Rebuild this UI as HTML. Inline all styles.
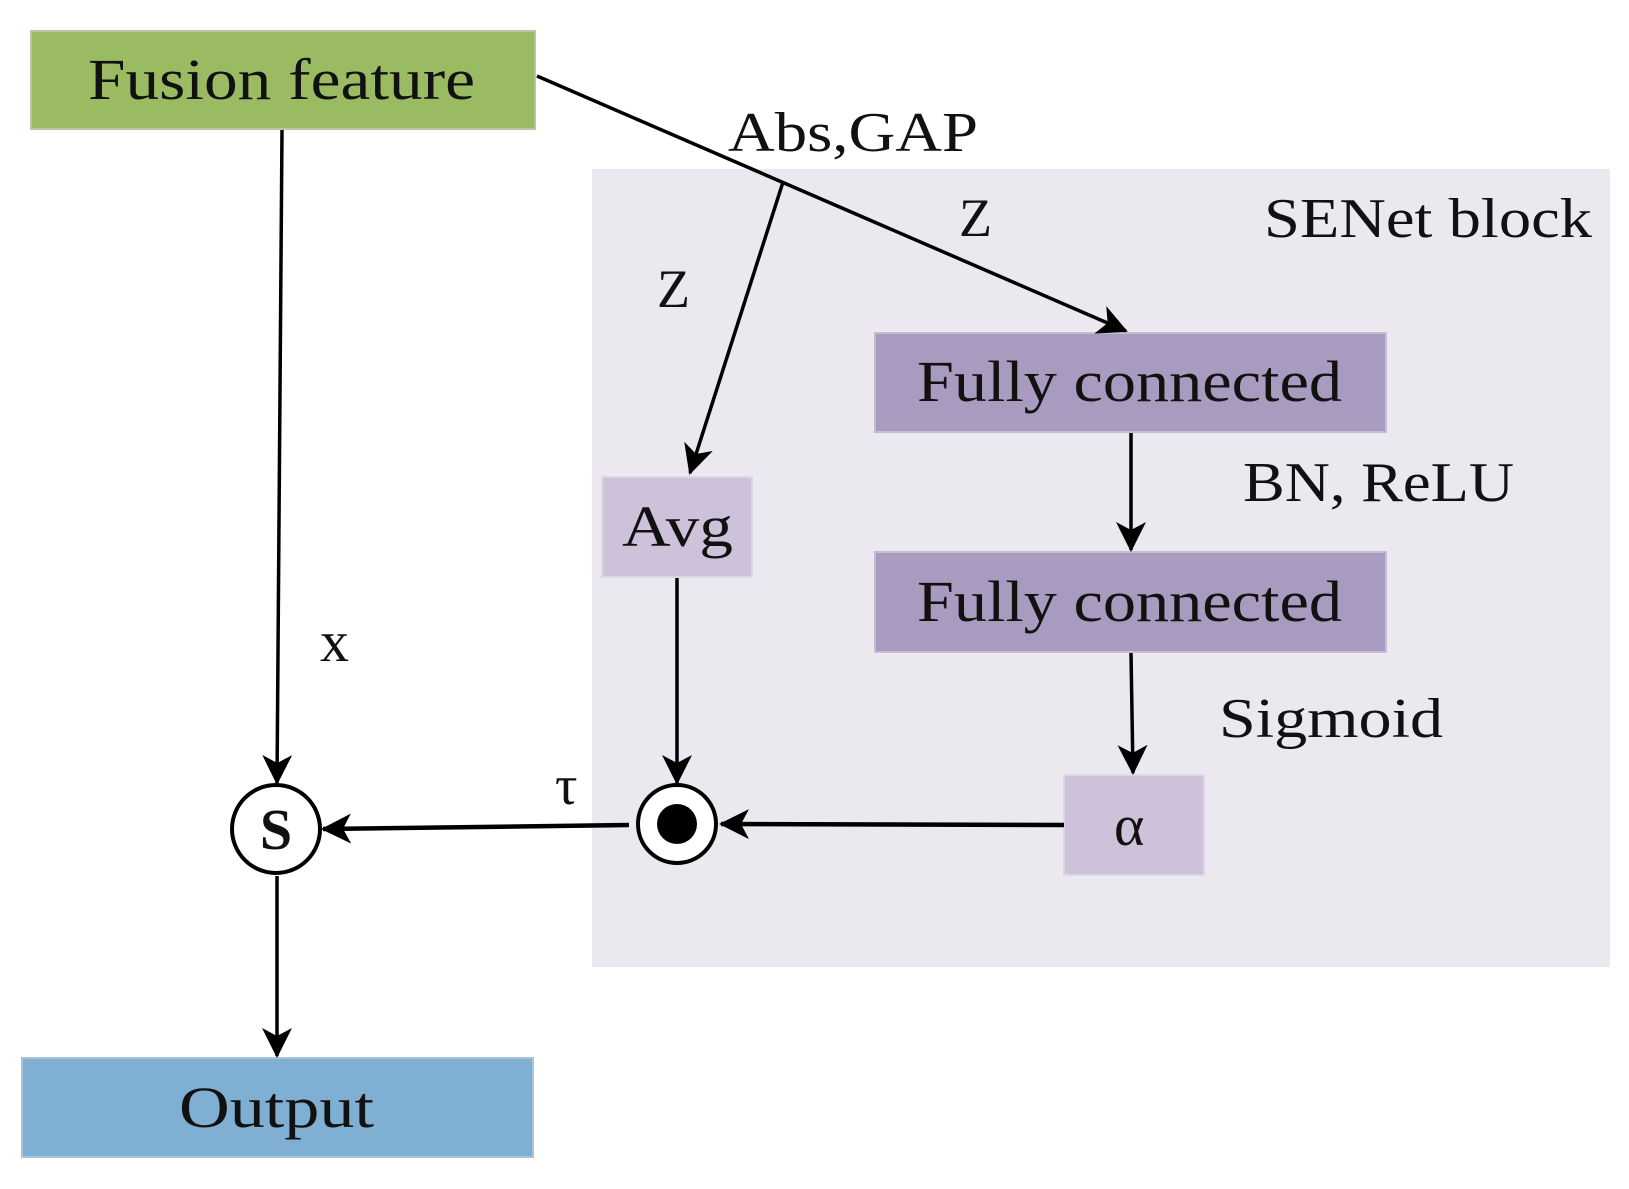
<!DOCTYPE html>
<html><head><meta charset="utf-8"><style>
html,body{margin:0;padding:0;background:#fff;}
svg{display:block;}
text{font-family:"Liberation Serif",serif;fill:#111;}
</style></head><body>
<svg width="1629" height="1189" viewBox="0 0 1629 1189" xmlns="http://www.w3.org/2000/svg">
<defs>
<marker id="a" markerWidth="32" markerHeight="32" refX="28" refY="15" orient="auto" markerUnits="userSpaceOnUse">
<path d="M0,0 L30,15 L0,30 L8,15 Z" fill="#000"/>
</marker>
</defs>
<rect x="592" y="169" width="1018" height="798" fill="#ebe8ef"/>
<rect x="31" y="31" width="504" height="98" fill="#9bbb62" stroke="#b8c8a0" stroke-width="2"/>
<rect x="875" y="333" width="511" height="99" fill="#a99bbf" stroke="#c4bcd0" stroke-width="2"/>
<rect x="875" y="552" width="511" height="100" fill="#a99bbf" stroke="#c4bcd0" stroke-width="2"/>
<rect x="602" y="477" width="150" height="100" fill="#cdc2da" stroke="#ddd6e5" stroke-width="2"/>
<rect x="1064" y="775" width="140" height="100" fill="#cdc2da" stroke="#ddd6e5" stroke-width="2"/>
<rect x="22" y="1058" width="511" height="99" fill="#7fafd3" stroke="#a8c4dc" stroke-width="2"/>
<g stroke="#000" stroke-width="3.5" fill="none">
<line x1="537" y1="76" x2="1126" y2="331" marker-end="url(#a)"/>
<line x1="783" y1="182" x2="690" y2="473" marker-end="url(#a)"/>
<line x1="282" y1="130" x2="277" y2="783" marker-end="url(#a)"/>
<line x1="677" y1="578" x2="677" y2="783" marker-end="url(#a)"/>
<line x1="1131" y1="433" x2="1131" y2="550" marker-end="url(#a)"/>
<line x1="1131" y1="653" x2="1133" y2="773" marker-end="url(#a)"/>
<line x1="1064" y1="825" x2="721" y2="824" marker-end="url(#a)" stroke-width="4.5"/>
<line x1="629" y1="825" x2="323" y2="829" marker-end="url(#a)" stroke-width="4.5"/>
<line x1="277" y1="876" x2="277" y2="1056" marker-end="url(#a)"/>
</g>
<circle cx="677" cy="824" r="39" fill="#fff" stroke="#000" stroke-width="4"/>
<circle cx="677" cy="824" r="20" fill="#000"/>
<ellipse cx="276" cy="829" rx="44" ry="44" fill="#fff" stroke="#000" stroke-width="4"/>
<text x="276" y="849" font-size="58" font-weight="bold" text-anchor="middle">S</text>
<text x="88" y="99" font-size="58" textLength="387" lengthAdjust="spacingAndGlyphs">Fusion feature</text>
<text x="728" y="151" font-size="56" textLength="250" lengthAdjust="spacingAndGlyphs">Abs,GAP</text>
<text x="959" y="236" font-size="54">Z</text>
<text x="657" y="307" font-size="54">Z</text>
<text x="1264" y="237" font-size="56" textLength="328" lengthAdjust="spacingAndGlyphs">SENet block</text>
<text x="917" y="401" font-size="58" textLength="425" lengthAdjust="spacingAndGlyphs">Fully connected</text>
<text x="1243" y="501" font-size="56" textLength="271" lengthAdjust="spacingAndGlyphs">BN, ReLU</text>
<text x="622" y="546" font-size="58" textLength="111" lengthAdjust="spacingAndGlyphs">Avg</text>
<text x="917" y="621" font-size="58" textLength="425" lengthAdjust="spacingAndGlyphs">Fully connected</text>
<text x="1219" y="737" font-size="56" textLength="224" lengthAdjust="spacingAndGlyphs">Sigmoid</text>
<text x="1114" y="845" font-size="58">α</text>
<text x="320" y="661" font-size="58">x</text>
<text x="555" y="804" font-size="56">τ</text>
<text x="179" y="1127" font-size="58" textLength="195" lengthAdjust="spacingAndGlyphs">Output</text>
</svg>
</body></html>
